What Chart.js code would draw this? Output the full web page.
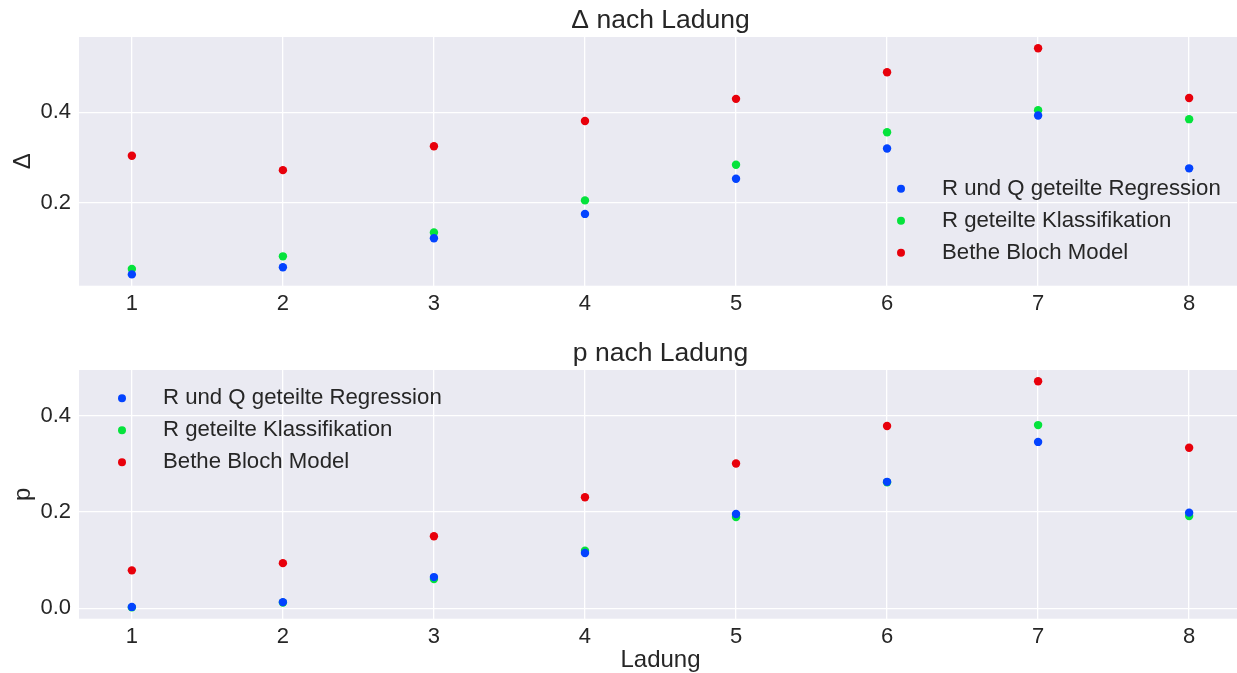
<!DOCTYPE html>
<html>
<head>
<meta charset="utf-8">
<script src="https://cdn.jsdelivr.net/npm/chart.js@4.4.1/dist/chart.umd.min.js"></script>
<style>
  html, body { margin: 0; padding: 0; background: #ffffff; width: 1237px; height: 673px; overflow: hidden; position: relative; }
  .panel { position: absolute; left: 0; width: 1242px; }
  #deltaPanel { top: 0; height: 330px; }
  #pPanel { top: 333px; height: 357px; }
</style>
</head>
<body>
<div class="panel" id="deltaPanel"><canvas id="deltaChart" width="1242" height="330"></canvas></div>
<div class="panel" id="pPanel"><canvas id="pChart" width="1242" height="357"></canvas></div>
<script>
// Ladung (charge) categories on the x axis
const ladung = [1, 2, 3, 4, 5, 6, 7, 8];
const seriesNames = ['R und Q geteilte Regression', 'R geteilte Klassifikation', 'Bethe Bloch Model'];
const seriesColors = ['#0343ff', '#05e33c', '#e8000b'];

// Δ per charge
const deltaRegression     = [0.041, 0.057, 0.121, 0.175, 0.253, 0.320, 0.393, 0.276];
const deltaKlassifikation = [0.053, 0.081, 0.134, 0.205, 0.284, 0.356, 0.405, 0.385];
const deltaBetheBloch     = [0.304, 0.272, 0.325, 0.381, 0.430, 0.489, 0.542, 0.432];

// p per charge
const pRegression     = [0.003, 0.013, 0.065, 0.115, 0.196, 0.263, 0.346, 0.199];
const pKlassifikation = [0.002, 0.012, 0.061, 0.120, 0.190, 0.262, 0.381, 0.192];
const pBetheBloch     = [0.079, 0.094, 0.150, 0.231, 0.301, 0.379, 0.472, 0.334];

// tick positions
const xTicks = [1, 2, 3, 4, 5, 6, 7, 8];
const deltaTicks = [0.2, 0.4];
const pTicks = [0.0, 0.2, 0.4];

const TEXT = '#262626';
const FONT = 'Liberation Sans';
Chart.defaults.font.family = FONT;
Chart.defaults.color = TEXT;

// axis limits with a 5 % margin around the data, like matplotlib autoscaling
function paddedRange(arrays) {
  const all = [].concat(...arrays);
  const lo = Math.min(...all), hi = Math.max(...all);
  const m = (hi - lo) * 0.05;
  return [lo - m, hi + m];
}

const plotBackground = {
  id: 'plotBackground',
  beforeDraw(chart) {
    const { ctx, chartArea: a } = chart;
    ctx.save();
    ctx.fillStyle = '#eaeaf2';
    ctx.fillRect(a.left, a.top, a.right - a.left, a.bottom - a.top);
    ctx.restore();
  }
};

// legend drawn inside the plotting area
const innerLegend = {
  id: 'innerLegend',
  afterDatasetsDraw(chart, args, opts) {
    const { ctx, chartArea: a } = chart;
    ctx.save();
    ctx.font = '22.2px "' + FONT + '"';
    ctx.textBaseline = 'middle';
    ctx.textAlign = 'left';
    chart.data.datasets.forEach((ds, i) => {
      const mx = a.left + opts.x;
      const my = a.top + opts.y + i * opts.rowGap;
      ctx.fillStyle = ds.backgroundColor;
      ctx.beginPath();
      ctx.arc(mx, my, 4, 0, Math.PI * 2);
      ctx.fill();
      ctx.fillStyle = TEXT;
      ctx.fillText(ds.label, mx + 41, my);
    });
    ctx.restore();
  }
};

function makeDatasets(seriesValues) {
  return seriesValues.map((vals, i) => ({
    label: seriesNames[i],
    data: ladung.map((x, j) => ({ x: x, y: vals[j] })),
    backgroundColor: seriesColors[i],
    borderColor: seriesColors[i],
    pointRadius: 4.2,
    pointBorderWidth: 0,
    pointHoverRadius: 4.2
  }));
}

function makeChart(canvasId, cfg) {
  const [ymin, ymax] = paddedRange(cfg.series);
  const [xmin, xmax] = paddedRange([ladung]);
  return new Chart(document.getElementById(canvasId), {
    type: 'scatter',
    data: { datasets: makeDatasets(cfg.series) },
    plugins: [plotBackground, innerLegend],
    options: {
      responsive: false,
      maintainAspectRatio: false,
      animation: false,
      devicePixelRatio: 1,
      layout: { padding: 0, autoPadding: false },
      plugins: {
        legend: { display: false },
        tooltip: { enabled: false },
        title: {
          display: true,
          text: cfg.title,
          fullSize: false,
          color: TEXT,
          font: { size: 26.5, weight: 'normal', family: FONT },
          padding: { top: 4.6, bottom: 0.6 }
        },
        innerLegend: cfg.legend
      },
      scales: {
        x: {
          type: 'linear',
          min: xmin,
          max: xmax,
          afterBuildTicks: s => { s.ticks = xTicks.map(v => ({ value: v })); },
          afterFit: s => { s.height = cfg.xHeight; },
          ticks: { padding: 5.5, font: { size: 22 }, color: TEXT, callback: v => String(v) },
          grid: { color: '#ffffff', lineWidth: 1.3, drawTicks: false },
          border: { display: false },
          title: cfg.xTitle ? {
            display: true, text: cfg.xTitle, color: TEXT,
            font: { size: 24 }, padding: { top: 0, bottom: 15 }
          } : { display: false }
        },
        y: {
          type: 'linear',
          min: ymin,
          max: ymax,
          afterBuildTicks: s => { s.ticks = cfg.yTicks.map(v => ({ value: v })); },
          afterFit: s => { s.width = 79; },
          ticks: { padding: 8, font: { size: 22 }, color: TEXT, callback: v => v.toFixed(1) },
          grid: { color: '#ffffff', lineWidth: 1.3, drawTicks: false },
          border: { display: false },
          title: {
            display: true, text: cfg.yTitle, color: TEXT,
            font: { size: 24 }, padding: { top: 9, bottom: 0 }
          }
        }
      }
    }
  });
}

makeChart('deltaChart', {
  title: 'Δ nach Ladung',
  yTitle: 'Δ',
  series: [deltaRegression, deltaKlassifikation, deltaBetheBloch],
  yTicks: deltaTicks,
  xHeight: 44.3,
  legend: { x: 822, y: 151.7, rowGap: 32 }
});

makeChart('pChart', {
  title: 'p nach Ladung',
  yTitle: 'p',
  xTitle: 'Ladung',
  series: [pRegression, pKlassifikation, pBetheBloch],
  yTicks: pTicks,
  xHeight: 71.3,
  legend: { x: 43, y: 28.3, rowGap: 32 }
});
</script>
</body>
</html>
